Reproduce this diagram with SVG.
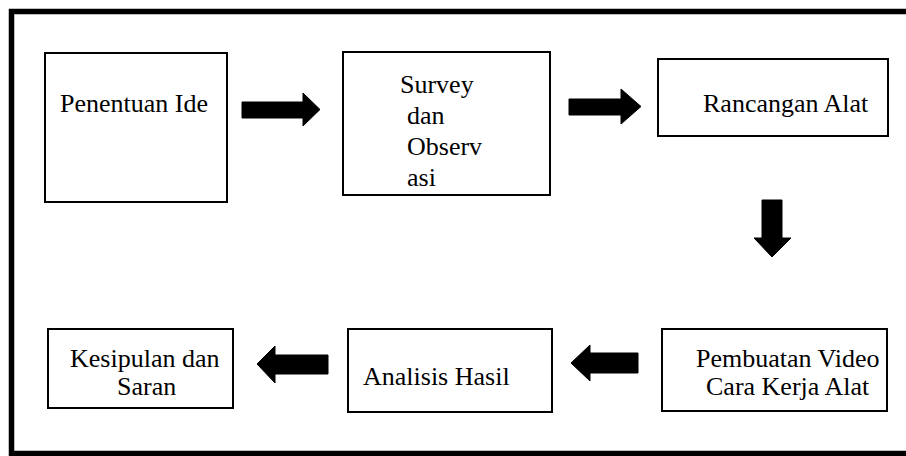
<svg xmlns="http://www.w3.org/2000/svg" width="906" height="456" viewBox="0 0 906 456">
<style>
.frame{fill:none;stroke:#000;stroke-width:5.5}
.box{fill:#fff;stroke:#000;stroke-width:2}
.lbl{font-family:'Liberation Serif', 'Times New Roman', Times, serif;font-size:26px;fill:#000}
.arr{fill:#000;stroke:#000;stroke-width:1;stroke-linejoin:round}
</style>
<rect width="906" height="456" fill="#fff"/>
<rect class="frame" x="11.5" y="11.5" width="900" height="442"/>
<g id="n1"><rect class="box" x="45" y="53" width="182" height="149"/><text class="lbl" x="60" y="112">Penentuan Ide</text></g>
<g id="n2"><rect class="box" x="343" y="52" width="207" height="143"/><text class="lbl" x="400" y="92.5">Survey</text><text class="lbl" x="407" y="124">dan</text><text class="lbl" x="407" y="155">Observ</text><text class="lbl" x="407" y="186">asi</text></g>
<g id="n3"><rect class="box" x="658" y="59" width="230" height="77"/><text class="lbl" x="703" y="112">Rancangan Alat</text></g>
<g id="n4"><rect class="box" x="662" y="329" width="225" height="82"/><text class="lbl" x="696" y="367">Pembuatan Video</text><text class="lbl" x="706" y="395">Cara Kerja Alat</text></g>
<g id="n5"><rect class="box" x="348" y="329" width="204" height="83"/><text class="lbl" x="363" y="385">Analisis Hasil</text></g>
<g id="n6"><rect class="box" x="48" y="329" width="185" height="79"/><text class="lbl" x="70" y="367">Kesipulan dan</text><text class="lbl" x="117" y="395">Saran</text></g>
<g id="connectors">
<polygon class="arr" points="242,102 303,102 303,93 320,109.5 303,126 303,118 242,118"/>
<polygon class="arr" points="569,99 621,99 621,89 641,106.5 621,124 621,115 569,115"/>
<polygon class="arr" points="762,200 782,200 782,238 791,238 772,257 754,238 762,238"/>
<polygon class="arr" points="638,353 638,373 590,373 590,381 571,363 590,345 590,353"/>
<polygon class="arr" points="328,355 328,374 275,374 275,383 257,364 275,346 275,355"/>
</g>
</svg>
